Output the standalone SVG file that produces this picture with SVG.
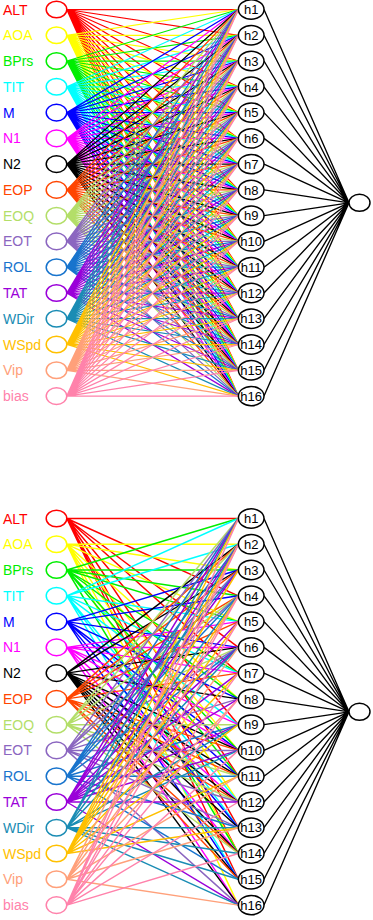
<svg xmlns="http://www.w3.org/2000/svg" width="373" height="920" viewBox="0 0 373 920">
<style>
.bg{fill:#fff}
.w{fill:none;stroke-linecap:round}
.t{stroke-width:1.25}
.b{stroke-width:1.45}
.o{stroke:#000;stroke-width:1.35;fill:none}
.n{fill:#fff;stroke-width:1.5}
.h{fill:#fff;stroke:#000;stroke-width:1.5}
.lab{font-family:"Liberation Sans",Arial,sans-serif;font-size:14px}
.hl{font-family:"Liberation Sans",Arial,sans-serif;font-size:13px;text-anchor:middle;fill:#000}
.c0{stroke:#FF0000}.f0{fill:#FF0000}
.c1{stroke:#FFFF00}.f1{fill:#FFFF00}
.c2{stroke:#00EE00}.f2{fill:#00EE00}
.c3{stroke:#00FFFF}.f3{fill:#00FFFF}
.c4{stroke:#0000FF}.f4{fill:#0000FF}
.c5{stroke:#FF00FF}.f5{fill:#FF00FF}
.c6{stroke:#000000}.f6{fill:#000000}
.c7{stroke:#FF4500}.f7{fill:#FF4500}
.c8{stroke:#B3DE69}.f8{fill:#B3DE69}
.c9{stroke:#8B66C0}.f9{fill:#8B66C0}
.c10{stroke:#1874CD}.f10{fill:#1874CD}
.c11{stroke:#9A00D9}.f11{fill:#9A00D9}
.c12{stroke:#1A8CB4}.f12{fill:#1A8CB4}
.c13{stroke:#FFC000}.f13{fill:#FFC000}
.c14{stroke:#FFA07A}.f14{fill:#FFA07A}
.c15{stroke:#FF82AB}.f15{fill:#FF82AB}
</style>
<rect class="bg" x="0" y="0" width="373" height="920"/>
<g id="connectors">
<g id="top-input-hidden" class="w t">
<path class="c0" d="M66.8 9.5 238.4 9.5M66.8 9.5 238.4 35.3M66.8 9.5 238.4 61M66.8 9.5 238.4 86.8M66.8 9.5 238.4 112.6M66.8 9.5 238.4 138.4M66.8 9.5 238.4 164.1M66.8 9.5 238.4 189.9M66.8 9.5 238.4 215.7M66.8 9.5 238.4 241.4M66.8 9.5 238.4 267.2M66.8 9.5 238.4 293M66.8 9.5 238.4 318.7M66.8 9.5 238.4 344.5M66.8 9.5 238.4 370.3M66.8 9.5 238.4 396.1"/>
<path class="c1" d="M66.8 35.3 238.4 9.5M66.8 35.3 238.4 35.3M66.8 35.3 238.4 61M66.8 35.3 238.4 86.8M66.8 35.3 238.4 112.6M66.8 35.3 238.4 138.4M66.8 35.3 238.4 164.1M66.8 35.3 238.4 189.9M66.8 35.3 238.4 215.7M66.8 35.3 238.4 241.4M66.8 35.3 238.4 267.2M66.8 35.3 238.4 293M66.8 35.3 238.4 318.7M66.8 35.3 238.4 344.5M66.8 35.3 238.4 370.3M66.8 35.3 238.4 396.1"/>
<path class="c2" d="M66.8 61 238.4 9.5M66.8 61 238.4 35.3M66.8 61 238.4 61M66.8 61 238.4 86.8M66.8 61 238.4 112.6M66.8 61 238.4 138.4M66.8 61 238.4 164.1M66.8 61 238.4 189.9M66.8 61 238.4 215.7M66.8 61 238.4 241.4M66.8 61 238.4 267.2M66.8 61 238.4 293M66.8 61 238.4 318.7M66.8 61 238.4 344.5M66.8 61 238.4 370.3M66.8 61 238.4 396.1"/>
<path class="c3" d="M66.8 86.8 238.4 9.5M66.8 86.8 238.4 35.3M66.8 86.8 238.4 61M66.8 86.8 238.4 86.8M66.8 86.8 238.4 112.6M66.8 86.8 238.4 138.4M66.8 86.8 238.4 164.1M66.8 86.8 238.4 189.9M66.8 86.8 238.4 215.7M66.8 86.8 238.4 241.4M66.8 86.8 238.4 267.2M66.8 86.8 238.4 293M66.8 86.8 238.4 318.7M66.8 86.8 238.4 344.5M66.8 86.8 238.4 370.3M66.8 86.8 238.4 396.1"/>
<path class="c4" d="M66.8 112.6 238.4 9.5M66.8 112.6 238.4 35.3M66.8 112.6 238.4 61M66.8 112.6 238.4 86.8M66.8 112.6 238.4 112.6M66.8 112.6 238.4 138.4M66.8 112.6 238.4 164.1M66.8 112.6 238.4 189.9M66.8 112.6 238.4 215.7M66.8 112.6 238.4 241.4M66.8 112.6 238.4 267.2M66.8 112.6 238.4 293M66.8 112.6 238.4 318.7M66.8 112.6 238.4 344.5M66.8 112.6 238.4 370.3M66.8 112.6 238.4 396.1"/>
<path class="c5" d="M66.8 138.4 238.4 9.5M66.8 138.4 238.4 35.3M66.8 138.4 238.4 61M66.8 138.4 238.4 86.8M66.8 138.4 238.4 112.6M66.8 138.4 238.4 138.4M66.8 138.4 238.4 164.1M66.8 138.4 238.4 189.9M66.8 138.4 238.4 215.7M66.8 138.4 238.4 241.4M66.8 138.4 238.4 267.2M66.8 138.4 238.4 293M66.8 138.4 238.4 318.7M66.8 138.4 238.4 344.5M66.8 138.4 238.4 370.3M66.8 138.4 238.4 396.1"/>
<path class="c6" d="M66.8 164.1 238.4 9.5M66.8 164.1 238.4 35.3M66.8 164.1 238.4 61M66.8 164.1 238.4 86.8M66.8 164.1 238.4 112.6M66.8 164.1 238.4 138.4M66.8 164.1 238.4 164.1M66.8 164.1 238.4 189.9M66.8 164.1 238.4 215.7M66.8 164.1 238.4 241.4M66.8 164.1 238.4 267.2M66.8 164.1 238.4 293M66.8 164.1 238.4 318.7M66.8 164.1 238.4 344.5M66.8 164.1 238.4 370.3M66.8 164.1 238.4 396.1"/>
<path class="c7" d="M66.8 189.9 238.4 9.5M66.8 189.9 238.4 35.3M66.8 189.9 238.4 61M66.8 189.9 238.4 86.8M66.8 189.9 238.4 112.6M66.8 189.9 238.4 138.4M66.8 189.9 238.4 164.1M66.8 189.9 238.4 189.9M66.8 189.9 238.4 215.7M66.8 189.9 238.4 241.4M66.8 189.9 238.4 267.2M66.8 189.9 238.4 293M66.8 189.9 238.4 318.7M66.8 189.9 238.4 344.5M66.8 189.9 238.4 370.3M66.8 189.9 238.4 396.1"/>
<path class="c8" d="M66.8 215.7 238.4 9.5M66.8 215.7 238.4 35.3M66.8 215.7 238.4 61M66.8 215.7 238.4 86.8M66.8 215.7 238.4 112.6M66.8 215.7 238.4 138.4M66.8 215.7 238.4 164.1M66.8 215.7 238.4 189.9M66.8 215.7 238.4 215.7M66.8 215.7 238.4 241.4M66.8 215.7 238.4 267.2M66.8 215.7 238.4 293M66.8 215.7 238.4 318.7M66.8 215.7 238.4 344.5M66.8 215.7 238.4 370.3M66.8 215.7 238.4 396.1"/>
<path class="c9" d="M66.8 241.4 238.4 9.5M66.8 241.4 238.4 35.3M66.8 241.4 238.4 61M66.8 241.4 238.4 86.8M66.8 241.4 238.4 112.6M66.8 241.4 238.4 138.4M66.8 241.4 238.4 164.1M66.8 241.4 238.4 189.9M66.8 241.4 238.4 215.7M66.8 241.4 238.4 241.4M66.8 241.4 238.4 267.2M66.8 241.4 238.4 293M66.8 241.4 238.4 318.7M66.8 241.4 238.4 344.5M66.8 241.4 238.4 370.3M66.8 241.4 238.4 396.1"/>
<path class="c10" d="M66.8 267.2 238.4 9.5M66.8 267.2 238.4 35.3M66.8 267.2 238.4 61M66.8 267.2 238.4 86.8M66.8 267.2 238.4 112.6M66.8 267.2 238.4 138.4M66.8 267.2 238.4 164.1M66.8 267.2 238.4 189.9M66.8 267.2 238.4 215.7M66.8 267.2 238.4 241.4M66.8 267.2 238.4 267.2M66.8 267.2 238.4 293M66.8 267.2 238.4 318.7M66.8 267.2 238.4 344.5M66.8 267.2 238.4 370.3M66.8 267.2 238.4 396.1"/>
<path class="c11" d="M66.8 293 238.4 9.5M66.8 293 238.4 35.3M66.8 293 238.4 61M66.8 293 238.4 86.8M66.8 293 238.4 112.6M66.8 293 238.4 138.4M66.8 293 238.4 164.1M66.8 293 238.4 189.9M66.8 293 238.4 215.7M66.8 293 238.4 241.4M66.8 293 238.4 267.2M66.8 293 238.4 293M66.8 293 238.4 318.7M66.8 293 238.4 344.5M66.8 293 238.4 370.3M66.8 293 238.4 396.1"/>
<path class="c12" d="M66.8 318.7 238.4 9.5M66.8 318.7 238.4 35.3M66.8 318.7 238.4 61M66.8 318.7 238.4 86.8M66.8 318.7 238.4 112.6M66.8 318.7 238.4 138.4M66.8 318.7 238.4 164.1M66.8 318.7 238.4 189.9M66.8 318.7 238.4 215.7M66.8 318.7 238.4 241.4M66.8 318.7 238.4 267.2M66.8 318.7 238.4 293M66.8 318.7 238.4 318.7M66.8 318.7 238.4 344.5M66.8 318.7 238.4 370.3M66.8 318.7 238.4 396.1"/>
<path class="c13" d="M66.8 344.5 238.4 9.5M66.8 344.5 238.4 35.3M66.8 344.5 238.4 61M66.8 344.5 238.4 86.8M66.8 344.5 238.4 112.6M66.8 344.5 238.4 138.4M66.8 344.5 238.4 164.1M66.8 344.5 238.4 189.9M66.8 344.5 238.4 215.7M66.8 344.5 238.4 241.4M66.8 344.5 238.4 267.2M66.8 344.5 238.4 293M66.8 344.5 238.4 318.7M66.8 344.5 238.4 344.5M66.8 344.5 238.4 370.3M66.8 344.5 238.4 396.1"/>
<path class="c14" d="M66.8 370.3 238.4 9.5M66.8 370.3 238.4 35.3M66.8 370.3 238.4 61M66.8 370.3 238.4 86.8M66.8 370.3 238.4 112.6M66.8 370.3 238.4 138.4M66.8 370.3 238.4 164.1M66.8 370.3 238.4 189.9M66.8 370.3 238.4 215.7M66.8 370.3 238.4 241.4M66.8 370.3 238.4 267.2M66.8 370.3 238.4 293M66.8 370.3 238.4 318.7M66.8 370.3 238.4 344.5M66.8 370.3 238.4 370.3M66.8 370.3 238.4 396.1"/>
<path class="c15" d="M66.8 396.1 238.4 9.5M66.8 396.1 238.4 35.3M66.8 396.1 238.4 61M66.8 396.1 238.4 86.8M66.8 396.1 238.4 112.6M66.8 396.1 238.4 138.4M66.8 396.1 238.4 164.1M66.8 396.1 238.4 189.9M66.8 396.1 238.4 215.7M66.8 396.1 238.4 241.4M66.8 396.1 238.4 267.2M66.8 396.1 238.4 293M66.8 396.1 238.4 318.7M66.8 396.1 238.4 344.5M66.8 396.1 238.4 370.3M66.8 396.1 238.4 396.1"/>
</g>
<path id="top-hidden-output" class="o" d="M264 9.5 349 202.8M264 35.3 349 202.8M264 61 349 202.8M264 86.8 349 202.8M264 112.6 349 202.8M264 138.4 349 202.8M264 164.1 349 202.8M264 189.9 349 202.8M264 215.7 349 202.8M264 241.4 349 202.8M264 267.2 349 202.8M264 293 349 202.8M264 318.7 349 202.8M264 344.5 349 202.8M264 370.3 349 202.8M264 396.1 349 202.8"/>
<g id="bottom-input-hidden" class="w b">
<path class="c0" d="M66.8 518.5 238.4 518.5M66.8 518.5 238.4 595.8M66.8 518.5 238.4 647.4M66.8 518.5 238.4 673.1M66.8 518.5 238.4 724.7M66.8 518.5 238.4 776.2M66.8 518.5 238.4 827.7M66.8 518.5 238.4 853.5M66.8 518.5 238.4 879.3"/>
<path class="c1" d="M66.8 544.3 238.4 544.3M66.8 544.3 238.4 570M66.8 544.3 238.4 621.6M66.8 544.3 238.4 698.9M66.8 544.3 238.4 750.4M66.8 544.3 238.4 802M66.8 544.3 238.4 853.5M66.8 544.3 238.4 905.1"/>
<path class="c2" d="M66.8 570 238.4 518.5M66.8 570 238.4 570M66.8 570 238.4 595.8M66.8 570 238.4 621.6M66.8 570 238.4 673.1M66.8 570 238.4 698.9M66.8 570 238.4 750.4M66.8 570 238.4 776.2M66.8 570 238.4 853.5"/>
<path class="c3" d="M66.8 595.8 238.4 518.5M66.8 595.8 238.4 544.3M66.8 595.8 238.4 621.6M66.8 595.8 238.4 673.1M66.8 595.8 238.4 724.7M66.8 595.8 238.4 802M66.8 595.8 238.4 827.7M66.8 595.8 238.4 879.3"/>
<path class="c4" d="M66.8 621.6 238.4 570M66.8 621.6 238.4 595.8M66.8 621.6 238.4 647.4M66.8 621.6 238.4 698.9M66.8 621.6 238.4 750.4M66.8 621.6 238.4 776.2M66.8 621.6 238.4 827.7M66.8 621.6 238.4 879.3"/>
<path class="c5" d="M66.8 647.4 238.4 621.6M66.8 647.4 238.4 647.4M66.8 647.4 238.4 673.1M66.8 647.4 238.4 724.7M66.8 647.4 238.4 750.4M66.8 647.4 238.4 802M66.8 647.4 238.4 853.5M66.8 647.4 238.4 905.1"/>
<path class="c6" d="M66.8 673.1 238.4 544.3M66.8 673.1 238.4 570M66.8 673.1 238.4 647.4M66.8 673.1 238.4 698.9M66.8 673.1 238.4 750.4M66.8 673.1 238.4 776.2M66.8 673.1 238.4 802M66.8 673.1 238.4 827.7M66.8 673.1 238.4 853.5M66.8 673.1 238.4 879.3M66.8 673.1 238.4 905.1"/>
<path class="c7" d="M66.8 698.9 238.4 544.3M66.8 698.9 238.4 570M66.8 698.9 238.4 595.8M66.8 698.9 238.4 621.6M66.8 698.9 238.4 673.1M66.8 698.9 238.4 750.4M66.8 698.9 238.4 776.2M66.8 698.9 238.4 802M66.8 698.9 238.4 853.5M66.8 698.9 238.4 879.3"/>
<path class="c8" d="M66.8 724.7 238.4 518.5M66.8 724.7 238.4 544.3M66.8 724.7 238.4 595.8M66.8 724.7 238.4 647.4M66.8 724.7 238.4 724.7M66.8 724.7 238.4 776.2M66.8 724.7 238.4 802M66.8 724.7 238.4 853.5"/>
<path class="c9" d="M66.8 750.4 238.4 518.5M66.8 750.4 238.4 570M66.8 750.4 238.4 595.8M66.8 750.4 238.4 647.4M66.8 750.4 238.4 698.9M66.8 750.4 238.4 750.4M66.8 750.4 238.4 802M66.8 750.4 238.4 827.7M66.8 750.4 238.4 905.1"/>
<path class="c10" d="M66.8 776.2 238.4 518.5M66.8 776.2 238.4 544.3M66.8 776.2 238.4 570M66.8 776.2 238.4 595.8M66.8 776.2 238.4 647.4M66.8 776.2 238.4 724.7M66.8 776.2 238.4 776.2M66.8 776.2 238.4 827.7M66.8 776.2 238.4 879.3"/>
<path class="c11" d="M66.8 802 238.4 518.5M66.8 802 238.4 544.3M66.8 802 238.4 570M66.8 802 238.4 621.6M66.8 802 238.4 647.4M66.8 802 238.4 673.1M66.8 802 238.4 698.9M66.8 802 238.4 724.7M66.8 802 238.4 750.4M66.8 802 238.4 802M66.8 802 238.4 905.1"/>
<path class="c12" d="M66.8 827.7 238.4 518.5M66.8 827.7 238.4 544.3M66.8 827.7 238.4 595.8M66.8 827.7 238.4 647.4M66.8 827.7 238.4 724.7M66.8 827.7 238.4 750.4M66.8 827.7 238.4 827.7M66.8 827.7 238.4 853.5M66.8 827.7 238.4 879.3M66.8 827.7 238.4 905.1"/>
<path class="c13" d="M66.8 853.5 238.4 518.5M66.8 853.5 238.4 544.3M66.8 853.5 238.4 570M66.8 853.5 238.4 595.8M66.8 853.5 238.4 621.6M66.8 853.5 238.4 673.1M66.8 853.5 238.4 724.7M66.8 853.5 238.4 776.2M66.8 853.5 238.4 827.7"/>
<path class="c14" d="M66.8 879.3 238.4 544.3M66.8 879.3 238.4 595.8M66.8 879.3 238.4 647.4M66.8 879.3 238.4 698.9M66.8 879.3 238.4 776.2M66.8 879.3 238.4 827.7M66.8 879.3 238.4 905.1"/>
<path class="c15" d="M66.8 905.1 238.4 518.5M66.8 905.1 238.4 544.3M66.8 905.1 238.4 595.8M66.8 905.1 238.4 621.6M66.8 905.1 238.4 673.1M66.8 905.1 238.4 698.9M66.8 905.1 238.4 750.4M66.8 905.1 238.4 802M66.8 905.1 238.4 853.5"/>
</g>
<path id="bottom-hidden-output" class="o" d="M264 518.5 349 711.8M264 544.3 349 711.8M264 570 349 711.8M264 595.8 349 711.8M264 621.6 349 711.8M264 647.4 349 711.8M264 673.1 349 711.8M264 698.9 349 711.8M264 724.7 349 711.8M264 750.4 349 711.8M264 776.2 349 711.8M264 802 349 711.8M264 827.7 349 711.8M264 853.5 349 711.8M264 879.3 349 711.8M264 905.1 349 711.8"/>
</g>
<g id="top-inputs">
<g id="t-ALT"><ellipse class="n c0" cx="56.5" cy="9.5" rx="10.3" ry="8.3"/><text class="lab f0" x="3" y="14.5">ALT</text></g>
<g id="t-AOA"><ellipse class="n c1" cx="56.5" cy="35.3" rx="10.3" ry="8.3"/><text class="lab f1" x="3" y="40.3">AOA</text></g>
<g id="t-BPrs"><ellipse class="n c2" cx="56.5" cy="61" rx="10.3" ry="8.3"/><text class="lab f2" x="3" y="66">BPrs</text></g>
<g id="t-TIT"><ellipse class="n c3" cx="56.5" cy="86.8" rx="10.3" ry="8.3"/><text class="lab f3" x="3" y="91.8">TIT</text></g>
<g id="t-M"><ellipse class="n c4" cx="56.5" cy="112.6" rx="10.3" ry="8.3"/><text class="lab f4" x="3" y="117.6">M</text></g>
<g id="t-N1"><ellipse class="n c5" cx="56.5" cy="138.4" rx="10.3" ry="8.3"/><text class="lab f5" x="3" y="143.4">N1</text></g>
<g id="t-N2"><ellipse class="n c6" cx="56.5" cy="164.1" rx="10.3" ry="8.3"/><text class="lab f6" x="3" y="169.1">N2</text></g>
<g id="t-EOP"><ellipse class="n c7" cx="56.5" cy="189.9" rx="10.3" ry="8.3"/><text class="lab f7" x="3" y="194.9">EOP</text></g>
<g id="t-EOQ"><ellipse class="n c8" cx="56.5" cy="215.7" rx="10.3" ry="8.3"/><text class="lab f8" x="3" y="220.7">EOQ</text></g>
<g id="t-EOT"><ellipse class="n c9" cx="56.5" cy="241.4" rx="10.3" ry="8.3"/><text class="lab f9" x="3" y="246.4">EOT</text></g>
<g id="t-ROL"><ellipse class="n c10" cx="56.5" cy="267.2" rx="10.3" ry="8.3"/><text class="lab f10" x="3" y="272.2">ROL</text></g>
<g id="t-TAT"><ellipse class="n c11" cx="56.5" cy="293" rx="10.3" ry="8.3"/><text class="lab f11" x="3" y="298">TAT</text></g>
<g id="t-WDir"><ellipse class="n c12" cx="56.5" cy="318.7" rx="10.3" ry="8.3"/><text class="lab f12" x="3" y="323.7">WDir</text></g>
<g id="t-WSpd"><ellipse class="n c13" cx="56.5" cy="344.5" rx="10.3" ry="8.3"/><text class="lab f13" x="3" y="349.5">WSpd</text></g>
<g id="t-Vip"><ellipse class="n c14" cx="56.5" cy="370.3" rx="10.3" ry="8.3"/><text class="lab f14" x="3" y="375.3">Vip</text></g>
<g id="t-bias"><ellipse class="n c15" cx="56.5" cy="396.1" rx="10.3" ry="8.3"/><text class="lab f15" x="3" y="401.1">bias</text></g>
</g>
<g id="top-hidden">
<g id="t-h1"><ellipse class="h" cx="251.2" cy="9.5" rx="12.8" ry="9.7"/><text class="hl" x="251.2" y="14.2">h1</text></g>
<g id="t-h2"><ellipse class="h" cx="251.2" cy="35.3" rx="12.8" ry="9.7"/><text class="hl" x="251.2" y="40">h2</text></g>
<g id="t-h3"><ellipse class="h" cx="251.2" cy="61" rx="12.8" ry="9.7"/><text class="hl" x="251.2" y="65.7">h3</text></g>
<g id="t-h4"><ellipse class="h" cx="251.2" cy="86.8" rx="12.8" ry="9.7"/><text class="hl" x="251.2" y="91.5">h4</text></g>
<g id="t-h5"><ellipse class="h" cx="251.2" cy="112.6" rx="12.8" ry="9.7"/><text class="hl" x="251.2" y="117.3">h5</text></g>
<g id="t-h6"><ellipse class="h" cx="251.2" cy="138.4" rx="12.8" ry="9.7"/><text class="hl" x="251.2" y="143.1">h6</text></g>
<g id="t-h7"><ellipse class="h" cx="251.2" cy="164.1" rx="12.8" ry="9.7"/><text class="hl" x="251.2" y="168.8">h7</text></g>
<g id="t-h8"><ellipse class="h" cx="251.2" cy="189.9" rx="12.8" ry="9.7"/><text class="hl" x="251.2" y="194.6">h8</text></g>
<g id="t-h9"><ellipse class="h" cx="251.2" cy="215.7" rx="12.8" ry="9.7"/><text class="hl" x="251.2" y="220.4">h9</text></g>
<g id="t-h10"><ellipse class="h" cx="251.2" cy="241.4" rx="12.8" ry="9.7"/><text class="hl" x="251.2" y="246.1">h10</text></g>
<g id="t-h11"><ellipse class="h" cx="251.2" cy="267.2" rx="12.8" ry="9.7"/><text class="hl" x="251.2" y="271.9">h11</text></g>
<g id="t-h12"><ellipse class="h" cx="251.2" cy="293" rx="12.8" ry="9.7"/><text class="hl" x="251.2" y="297.7">h12</text></g>
<g id="t-h13"><ellipse class="h" cx="251.2" cy="318.7" rx="12.8" ry="9.7"/><text class="hl" x="251.2" y="323.4">h13</text></g>
<g id="t-h14"><ellipse class="h" cx="251.2" cy="344.5" rx="12.8" ry="9.7"/><text class="hl" x="251.2" y="349.2">h14</text></g>
<g id="t-h15"><ellipse class="h" cx="251.2" cy="370.3" rx="12.8" ry="9.7"/><text class="hl" x="251.2" y="375">h15</text></g>
<g id="t-h16"><ellipse class="h" cx="251.2" cy="396.1" rx="12.8" ry="9.7"/><text class="hl" x="251.2" y="400.8">h16</text></g>
</g>
<g id="t-output"><ellipse class="h" cx="359.5" cy="202.8" rx="10.5" ry="8.5"/></g>
<g id="bottom-inputs">
<g id="b-ALT"><ellipse class="n c0" cx="56.5" cy="518.5" rx="10.3" ry="8.3"/><text class="lab f0" x="3" y="523.5">ALT</text></g>
<g id="b-AOA"><ellipse class="n c1" cx="56.5" cy="544.3" rx="10.3" ry="8.3"/><text class="lab f1" x="3" y="549.3">AOA</text></g>
<g id="b-BPrs"><ellipse class="n c2" cx="56.5" cy="570" rx="10.3" ry="8.3"/><text class="lab f2" x="3" y="575">BPrs</text></g>
<g id="b-TIT"><ellipse class="n c3" cx="56.5" cy="595.8" rx="10.3" ry="8.3"/><text class="lab f3" x="3" y="600.8">TIT</text></g>
<g id="b-M"><ellipse class="n c4" cx="56.5" cy="621.6" rx="10.3" ry="8.3"/><text class="lab f4" x="3" y="626.6">M</text></g>
<g id="b-N1"><ellipse class="n c5" cx="56.5" cy="647.4" rx="10.3" ry="8.3"/><text class="lab f5" x="3" y="652.4">N1</text></g>
<g id="b-N2"><ellipse class="n c6" cx="56.5" cy="673.1" rx="10.3" ry="8.3"/><text class="lab f6" x="3" y="678.1">N2</text></g>
<g id="b-EOP"><ellipse class="n c7" cx="56.5" cy="698.9" rx="10.3" ry="8.3"/><text class="lab f7" x="3" y="703.9">EOP</text></g>
<g id="b-EOQ"><ellipse class="n c8" cx="56.5" cy="724.7" rx="10.3" ry="8.3"/><text class="lab f8" x="3" y="729.7">EOQ</text></g>
<g id="b-EOT"><ellipse class="n c9" cx="56.5" cy="750.4" rx="10.3" ry="8.3"/><text class="lab f9" x="3" y="755.4">EOT</text></g>
<g id="b-ROL"><ellipse class="n c10" cx="56.5" cy="776.2" rx="10.3" ry="8.3"/><text class="lab f10" x="3" y="781.2">ROL</text></g>
<g id="b-TAT"><ellipse class="n c11" cx="56.5" cy="802" rx="10.3" ry="8.3"/><text class="lab f11" x="3" y="807">TAT</text></g>
<g id="b-WDir"><ellipse class="n c12" cx="56.5" cy="827.7" rx="10.3" ry="8.3"/><text class="lab f12" x="3" y="832.7">WDir</text></g>
<g id="b-WSpd"><ellipse class="n c13" cx="56.5" cy="853.5" rx="10.3" ry="8.3"/><text class="lab f13" x="3" y="858.5">WSpd</text></g>
<g id="b-Vip"><ellipse class="n c14" cx="56.5" cy="879.3" rx="10.3" ry="8.3"/><text class="lab f14" x="3" y="884.3">Vip</text></g>
<g id="b-bias"><ellipse class="n c15" cx="56.5" cy="905.1" rx="10.3" ry="8.3"/><text class="lab f15" x="3" y="910.1">bias</text></g>
</g>
<g id="bottom-hidden">
<g id="b-h1"><ellipse class="h" cx="251.2" cy="518.5" rx="12.8" ry="9.7"/><text class="hl" x="251.2" y="523.2">h1</text></g>
<g id="b-h2"><ellipse class="h" cx="251.2" cy="544.3" rx="12.8" ry="9.7"/><text class="hl" x="251.2" y="549">h2</text></g>
<g id="b-h3"><ellipse class="h" cx="251.2" cy="570" rx="12.8" ry="9.7"/><text class="hl" x="251.2" y="574.7">h3</text></g>
<g id="b-h4"><ellipse class="h" cx="251.2" cy="595.8" rx="12.8" ry="9.7"/><text class="hl" x="251.2" y="600.5">h4</text></g>
<g id="b-h5"><ellipse class="h" cx="251.2" cy="621.6" rx="12.8" ry="9.7"/><text class="hl" x="251.2" y="626.3">h5</text></g>
<g id="b-h6"><ellipse class="h" cx="251.2" cy="647.4" rx="12.8" ry="9.7"/><text class="hl" x="251.2" y="652.1">h6</text></g>
<g id="b-h7"><ellipse class="h" cx="251.2" cy="673.1" rx="12.8" ry="9.7"/><text class="hl" x="251.2" y="677.8">h7</text></g>
<g id="b-h8"><ellipse class="h" cx="251.2" cy="698.9" rx="12.8" ry="9.7"/><text class="hl" x="251.2" y="703.6">h8</text></g>
<g id="b-h9"><ellipse class="h" cx="251.2" cy="724.7" rx="12.8" ry="9.7"/><text class="hl" x="251.2" y="729.4">h9</text></g>
<g id="b-h10"><ellipse class="h" cx="251.2" cy="750.4" rx="12.8" ry="9.7"/><text class="hl" x="251.2" y="755.1">h10</text></g>
<g id="b-h11"><ellipse class="h" cx="251.2" cy="776.2" rx="12.8" ry="9.7"/><text class="hl" x="251.2" y="780.9">h11</text></g>
<g id="b-h12"><ellipse class="h" cx="251.2" cy="802" rx="12.8" ry="9.7"/><text class="hl" x="251.2" y="806.7">h12</text></g>
<g id="b-h13"><ellipse class="h" cx="251.2" cy="827.7" rx="12.8" ry="9.7"/><text class="hl" x="251.2" y="832.4">h13</text></g>
<g id="b-h14"><ellipse class="h" cx="251.2" cy="853.5" rx="12.8" ry="9.7"/><text class="hl" x="251.2" y="858.2">h14</text></g>
<g id="b-h15"><ellipse class="h" cx="251.2" cy="879.3" rx="12.8" ry="9.7"/><text class="hl" x="251.2" y="884">h15</text></g>
<g id="b-h16"><ellipse class="h" cx="251.2" cy="905.1" rx="12.8" ry="9.7"/><text class="hl" x="251.2" y="909.8">h16</text></g>
</g>
<g id="b-output"><ellipse class="h" cx="359.5" cy="711.8" rx="10.5" ry="8.5"/></g>
</svg>
